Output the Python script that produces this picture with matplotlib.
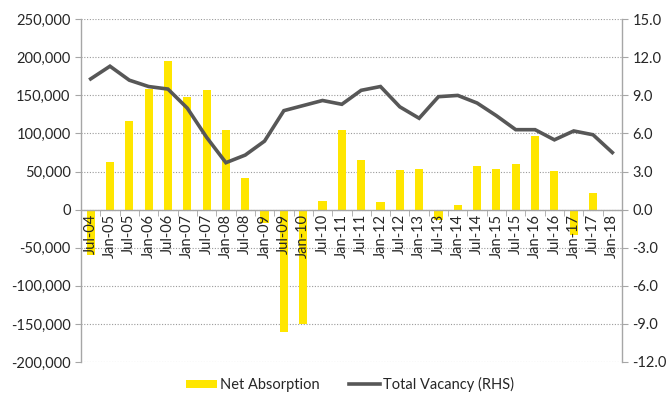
import numpy as np
import matplotlib
matplotlib.use("Agg")
import matplotlib.pyplot as plt
from matplotlib.ticker import FuncFormatter, MultipleLocator

plt.rcParams['font.family'] = ['Lato', 'DejaVu Sans']

# Half-yearly periods
periods = ['Jul-04', 'Jan-05', 'Jul-05', 'Jan-06', 'Jul-06', 'Jan-07', 'Jul-07',
           'Jan-08', 'Jul-08', 'Jan-09', 'Jul-09', 'Jan-10', 'Jul-10', 'Jan-11',
           'Jul-11', 'Jan-12', 'Jul-12', 'Jan-13', 'Jul-13', 'Jan-14', 'Jul-14',
           'Jan-15', 'Jul-15', 'Jan-16', 'Jul-16', 'Jan-17', 'Jul-17', 'Jan-18']

# Net absorption (LHS)
net_absorption = [-60000, 63000, 116000, 159000, 195000, 148000, 157000,
                  105000, 42000, -17000, -161000, -150000, 12000, 104000,
                  65000, 10500, 52000, 53000, -14000, 5700, 57000,
                  54000, 60000, 96500, 50500, -33000, 22500, 0]

# Total vacancy % (RHS)
total_vacancy = [10.3, 11.3, 10.2, 9.7, 9.5, 8.0, 5.7,
                 3.7, 4.3, 5.4, 7.8, 8.2, 8.6, 8.3,
                 9.4, 9.7, 8.1, 7.2, 8.9, 9.0, 8.4,
                 7.4, 6.3, 6.3, 5.5, 6.2, 5.9, 4.5]

bar_color = '#FFE600'
line_color = '#575757'
axis_color = '#a6a6a6'
text_color = '#262626'

x = np.arange(len(periods))

fig = plt.figure(figsize=(6.71, 4.01), dpi=100)
ax = fig.add_axes([0.1207, 0.0973, 0.927 - 0.1207, 0.952 - 0.0973])
ax2 = ax.twinx()

ax.bar(x, net_absorption, width=0.42, color=bar_color, label='Net Absorption', zorder=2)
ax2.plot(x, total_vacancy, color=line_color, linewidth=2.6, label='Total Vacancy (RHS)',
         solid_joinstyle='miter', zorder=3)

# left axis
ax.set_xlim(-0.5, len(periods) - 0.5)
ax.set_ylim(-200000, 250000)
ax.yaxis.set_major_locator(MultipleLocator(50000))
ax.yaxis.set_major_formatter(FuncFormatter(lambda v, p: f'{int(v):,}'))
ax.grid(axis='y', linestyle=(0, (1, 1.5)), color='#9a9a9a', linewidth=0.8)
ax.set_axisbelow(True)
# period labels are written over the bars
ax.xaxis.set_zorder(3)

# right axis
ax2.set_ylim(-12, 15)
ax2.yaxis.set_major_locator(MultipleLocator(3))
ax2.yaxis.set_major_formatter(FuncFormatter(lambda v, p: f'{v:.1f}'))

# x axis sits on zero
ax.spines['bottom'].set_position(('data', 0))
ax.spines['top'].set_visible(False)
ax2.spines['top'].set_visible(False)
ax2.spines['bottom'].set_visible(False)
ax2.spines['left'].set_visible(False)
ax.spines['right'].set_visible(False)
for sp in [ax.spines['left'], ax.spines['bottom'], ax2.spines['right']]:
    sp.set_color(axis_color)
    sp.set_linewidth(1.0)
ax.spines['bottom'].set_zorder(3)

ax.set_xticks(x)
ax.set_xticklabels(periods, rotation=90, fontsize=10.5, color=text_color)
ax.set_xticks(np.arange(len(periods) + 1) - 0.5, minor=True)
ax.tick_params(axis='x', which='major', length=0, pad=3)
ax.tick_params(axis='x', which='minor', length=4, color=axis_color, direction='out')
ax.tick_params(axis='y', length=4, color=axis_color, labelsize=10.5, labelcolor=text_color)
ax2.tick_params(axis='y', length=4, color=axis_color, labelsize=10.5, labelcolor=text_color)

h1, l1 = ax.get_legend_handles_labels()
h2, l2 = ax2.get_legend_handles_labels()
fig.legend(h1 + h2, l1 + l2, loc='lower center', bbox_to_anchor=(0.522, -0.01), ncol=2,
           frameon=False, fontsize=10.5, handlelength=2.1, handleheight=0.5,
           handletextpad=0.25, columnspacing=2.0, labelcolor=text_color)

fig.savefig('out.png', dpi=100)
